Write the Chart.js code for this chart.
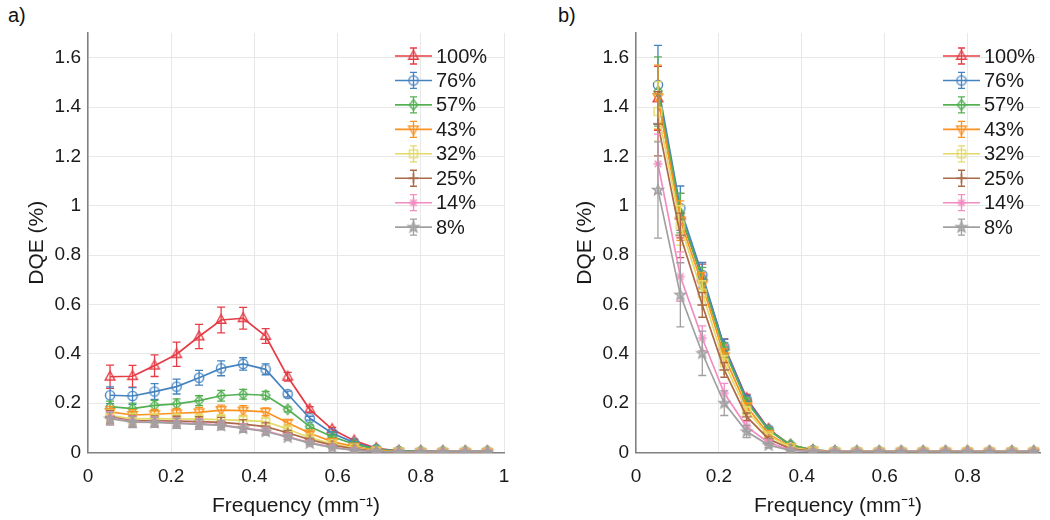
<!DOCTYPE html>
<html><head><meta charset="utf-8">
<script src="https://cdn.jsdelivr.net/npm/chart.js@4/dist/chart.umd.min.js"></script>
<style>
html,body{margin:0;padding:0;background:#fff;}
#wrap{position:relative;width:1050px;height:520px;font-family:"Liberation Sans",Arial,sans-serif;overflow:hidden;}
.panel{position:absolute;top:0;width:525px;height:520px;}
.tag{position:absolute;top:4px;font-size:20px;color:#111;font-family:"Liberation Sans",Arial,sans-serif;}
</style></head><body>
<div id="wrap">
<div class="tag" style="left:8px">a)</div>
<div class="tag" style="left:558px">b)</div>
<div class="panel" style="left:0"><canvas id="ca" width="525" height="520"></canvas></div>
<div class="panel" style="left:525px"><canvas id="cb" width="525" height="520"></canvas></div>
</div>
<script>
// ---------- data ----------
const freq = [0.053, 0.107, 0.16, 0.213, 0.267, 0.32, 0.373, 0.427, 0.48, 0.533, 0.587, 0.64, 0.693, 0.747, 0.8, 0.853, 0.907, 0.96];
const seriesLabels = ['100%', '76%', '57%', '43%', '32%', '25%', '14%', '8%'];
const seriesColors = ['#e63c45', '#4583c0', '#55b054', '#fb9220', '#e3da68', '#ad6a48', '#f28dc3', '#a0a0a0'];
const markerKinds = ['tri', 'circle', 'diamond', 'triDown', 'square', 'plus', 'asterisk', 'pentagram'];
const xTicksA = [0, 0.2, 0.4, 0.6, 0.8, 1];
const xTicksB = [0, 0.2, 0.4, 0.6, 0.8];
const yTicks = [0, 0.2, 0.4, 0.6, 0.8, 1, 1.2, 1.4, 1.6];

// panel a) values
const a100 = [0.307, 0.309, 0.352, 0.398, 0.470, 0.537, 0.544, 0.472, 0.307, 0.175, 0.094, 0.048, 0.017, 0.007, 0.006, 0.005, 0.005, 0.005];
const a76  = [0.232, 0.229, 0.247, 0.267, 0.303, 0.341, 0.359, 0.337, 0.237, 0.139, 0.078, 0.040, 0.014, 0.006, 0.004, 0.004, 0.004, 0.004];
const a57  = [0.186, 0.178, 0.191, 0.197, 0.210, 0.230, 0.236, 0.232, 0.175, 0.105, 0.064, 0.034, 0.013, 0.006, 0.004, 0.004, 0.004, 0.004];
const a43  = [0.165, 0.152, 0.155, 0.159, 0.163, 0.172, 0.170, 0.165, 0.121, 0.078, 0.044, 0.024, 0.008, 0.004, 0.003, 0.003, 0.003, 0.003];
const a32  = [0.150, 0.136, 0.137, 0.136, 0.135, 0.133, 0.130, 0.125, 0.095, 0.060, 0.035, 0.018, 0.006, 0.003, 0.003, 0.003, 0.003, 0.003];
const a25  = [0.145, 0.128, 0.128, 0.127, 0.125, 0.122, 0.115, 0.105, 0.080, 0.052, 0.030, 0.015, 0.005, 0.003, 0.003, 0.003, 0.003, 0.003];
const a14  = [0.140, 0.125, 0.124, 0.120, 0.117, 0.112, 0.100, 0.088, 0.065, 0.040, 0.022, 0.010, 0.004, 0.003, 0.003, 0.003, 0.003, 0.003];
const a8   = [0.137, 0.123, 0.122, 0.118, 0.114, 0.110, 0.098, 0.085, 0.062, 0.038, 0.020, 0.009, 0.004, 0.003, 0.003, 0.003, 0.003, 0.003];
// panel a) error bars (half-length)
const ea100 = [0.047, 0.044, 0.044, 0.049, 0.049, 0.052, 0.044, 0.030, 0.018, 0.011, 0.008, 0.006, 0.004, 0.003, 0.002, 0.002, 0.002, 0.002];
const ea76  = [0.034, 0.034, 0.032, 0.030, 0.030, 0.030, 0.025, 0.022, 0.012, 0.008, 0.006, 0.004, 0.003, 0.002, 0.002, 0.002, 0.002, 0.002];
const ea57  = [0.022, 0.022, 0.020, 0.020, 0.020, 0.022, 0.020, 0.016, 0.010, 0.007, 0.005, 0.004, 0.003, 0.002, 0.002, 0.002, 0.002, 0.002];
const ea43  = [0.022, 0.022, 0.020, 0.020, 0.020, 0.020, 0.020, 0.016, 0.010, 0.006, 0.004, 0.003, 0.002, 0.002, 0.002, 0.002, 0.002, 0.002];
const ea32  = [0.024, 0.022, 0.020, 0.020, 0.020, 0.020, 0.018, 0.015, 0.010, 0.006, 0.004, 0.003, 0.002, 0.002, 0.002, 0.002, 0.002, 0.002];
const ea25  = [0.026, 0.022, 0.020, 0.020, 0.020, 0.020, 0.018, 0.015, 0.010, 0.006, 0.004, 0.003, 0.002, 0.002, 0.002, 0.002, 0.002, 0.002];
const ea14  = [0.026, 0.022, 0.020, 0.020, 0.020, 0.018, 0.016, 0.014, 0.010, 0.006, 0.004, 0.003, 0.002, 0.002, 0.002, 0.002, 0.002, 0.002];
const ea8   = [0.026, 0.022, 0.020, 0.020, 0.020, 0.018, 0.016, 0.014, 0.010, 0.006, 0.004, 0.003, 0.002, 0.002, 0.002, 0.002, 0.002, 0.002];

// panel b) values
const b100 = [1.435, 0.960, 0.713, 0.430, 0.220, 0.095, 0.030, 0.010, 0.005, 0.004, 0.004, 0.004, 0.004, 0.004, 0.004, 0.004, 0.004, 0.004];
const b76  = [1.490, 0.990, 0.720, 0.429, 0.215, 0.093, 0.028, 0.009, 0.005, 0.004, 0.004, 0.004, 0.004, 0.004, 0.004, 0.004, 0.004, 0.004];
const b57  = [1.463, 0.970, 0.700, 0.415, 0.205, 0.090, 0.032, 0.010, 0.005, 0.004, 0.004, 0.004, 0.004, 0.004, 0.004, 0.004, 0.004, 0.004];
const b43  = [1.440, 0.940, 0.680, 0.390, 0.186, 0.075, 0.022, 0.008, 0.004, 0.004, 0.004, 0.004, 0.004, 0.004, 0.004, 0.004, 0.004, 0.004];
const b32  = [1.382, 0.920, 0.646, 0.363, 0.170, 0.068, 0.020, 0.007, 0.004, 0.004, 0.004, 0.004, 0.004, 0.004, 0.004, 0.004, 0.004, 0.004];
const b25  = [1.332, 0.880, 0.598, 0.335, 0.145, 0.055, 0.015, 0.006, 0.004, 0.004, 0.004, 0.004, 0.004, 0.004, 0.004, 0.004, 0.004, 0.004];
const b14  = [1.170, 0.713, 0.463, 0.240, 0.105, 0.040, 0.010, 0.005, 0.004, 0.004, 0.004, 0.004, 0.004, 0.004, 0.004, 0.004, 0.004, 0.004];
const b8   = [1.064, 0.639, 0.402, 0.200, 0.085, 0.030, 0.008, 0.004, 0.004, 0.004, 0.004, 0.004, 0.004, 0.004, 0.004, 0.004, 0.004, 0.004];
// panel b) error bars (half-length)
const eb100 = [0.130, 0.090, 0.050, 0.030, 0.015, 0.008, 0.004, 0.002, 0.002, 0.002, 0.002, 0.002, 0.002, 0.002, 0.002, 0.002, 0.002, 0.002];
const eb76  = [0.160, 0.090, 0.050, 0.030, 0.015, 0.008, 0.004, 0.002, 0.002, 0.002, 0.002, 0.002, 0.002, 0.002, 0.002, 0.002, 0.002, 0.002];
const eb57  = [0.140, 0.080, 0.050, 0.030, 0.015, 0.008, 0.004, 0.002, 0.002, 0.002, 0.002, 0.002, 0.002, 0.002, 0.002, 0.002, 0.002, 0.002];
const eb43  = [0.130, 0.080, 0.050, 0.030, 0.015, 0.008, 0.004, 0.002, 0.002, 0.002, 0.002, 0.002, 0.002, 0.002, 0.002, 0.002, 0.002, 0.002];
const eb32  = [0.120, 0.080, 0.050, 0.030, 0.015, 0.008, 0.004, 0.002, 0.002, 0.002, 0.002, 0.002, 0.002, 0.002, 0.002, 0.002, 0.002, 0.002];
const eb25  = [0.130, 0.090, 0.050, 0.030, 0.015, 0.008, 0.004, 0.002, 0.002, 0.002, 0.002, 0.002, 0.002, 0.002, 0.002, 0.002, 0.002, 0.002];
const eb14  = [0.120, 0.100, 0.050, 0.040, 0.020, 0.010, 0.004, 0.002, 0.002, 0.002, 0.002, 0.002, 0.002, 0.002, 0.002, 0.002, 0.002, 0.002];
const eb8   = [0.195, 0.130, 0.090, 0.050, 0.025, 0.010, 0.004, 0.002, 0.002, 0.002, 0.002, 0.002, 0.002, 0.002, 0.002, 0.002, 0.002, 0.002];

const valuesA = [a100, a76, a57, a43, a32, a25, a14, a8];
const errorsA = [ea100, ea76, ea57, ea43, ea32, ea25, ea14, ea8];
const valuesB = [b100, b76, b57, b43, b32, b25, b14, b8];
const errorsB = [eb100, eb76, eb57, eb43, eb32, eb25, eb14, eb8];

// ---------- drawing helpers ----------
const FONT = '"Liberation Sans", Arial, sans-serif';
function makeMarker(kind, color) {
  const c = document.createElement('canvas');
  c.width = 16; c.height = 16;
  const g = c.getContext('2d');
  g.strokeStyle = color; g.fillStyle = color; g.lineWidth = 1.4;
  g.translate(8, 8);
  g.beginPath();
  switch (kind) {
    case 'tri': g.moveTo(0, -5.5); g.lineTo(4.8, 3.2); g.lineTo(-4.8, 3.2); g.closePath(); break;
    case 'triDown': g.moveTo(0, 5.5); g.lineTo(4.8, -3.2); g.lineTo(-4.8, -3.2); g.closePath(); break;
    case 'circle': g.arc(0, 0, 4.6, 0, Math.PI * 2); break;
    case 'diamond': g.moveTo(0, -5.2); g.lineTo(4.2, 0); g.lineTo(0, 5.2); g.lineTo(-4.2, 0); g.closePath(); break;
    case 'square': g.rect(-3.9, -3.9, 7.8, 7.8); break;
    case 'plus': g.moveTo(-5, 0); g.lineTo(5, 0); g.moveTo(0, -5); g.lineTo(0, 5); break;
    case 'asterisk':
      g.moveTo(-4.5, 0); g.lineTo(4.5, 0); g.moveTo(0, -4.5); g.lineTo(0, 4.5);
      g.moveTo(-3.3, -3.3); g.lineTo(3.3, 3.3); g.moveTo(-3.3, 3.3); g.lineTo(3.3, -3.3); break;
    case 'pentagram':
      for (let k = 0; k < 10; k++) {
        const r = k % 2 === 0 ? 5.6 : 2.3;
        const a = -Math.PI / 2 + k * Math.PI / 5;
        const px = r * Math.cos(a), py = r * Math.sin(a);
        if (k === 0) g.moveTo(px, py); else g.lineTo(px, py);
      }
      g.closePath();
      g.globalAlpha = 0.55; g.fill(); g.globalAlpha = 1; break;
  }
  g.stroke();
  return c;
}
const markerImgs = markerKinds.map((k, i) => makeMarker(k, seriesColors[i]));

const errPlugin = {
  id: 'errbars',
  afterDatasetDraw(chart, args) {
    const ds = chart.data.datasets[args.index];
    if (!ds.errors) return;
    const ys = chart.scales.y, ctx = chart.ctx, ca = chart.chartArea;
    ctx.save();
    ctx.beginPath(); ctx.rect(ca.left - 10, ca.top, ca.right - ca.left + 20, ca.bottom - ca.top + 2); ctx.clip();
    ctx.strokeStyle = ds.borderColor; ctx.lineWidth = 1.3;
    args.meta.data.forEach((pt, i) => {
      const v = ds.data[i].y, e = ds.errors[i];
      const t = ys.getPixelForValue(v + e), b = ys.getPixelForValue(v - e);
      ctx.beginPath();
      ctx.moveTo(pt.x, t); ctx.lineTo(pt.x, b);
      ctx.moveTo(pt.x - 4, t); ctx.lineTo(pt.x + 4, t);
      ctx.moveTo(pt.x - 4, b); ctx.lineTo(pt.x + 4, b);
      ctx.stroke();
    });
    ctx.restore();
  }
};

const legendPlugin = {
  id: 'mlegend',
  afterDraw(chart) {
    const o = chart.options.plugins.mlegend;
    if (!o) return;
    const ctx = chart.ctx;
    ctx.save();
    chart.data.datasets.forEach((ds, i) => {
      const y = o.y0 + i * o.dy;
      const x0 = o.x, x1 = o.x + 37, xm = (x0 + x1) / 2;
      ctx.strokeStyle = ds.borderColor; ctx.lineWidth = 1.6;
      ctx.beginPath(); ctx.moveTo(x0, y); ctx.lineTo(x1, y); ctx.stroke();
      ctx.lineWidth = 1.3;
      ctx.beginPath();
      ctx.moveTo(xm, y - 8); ctx.lineTo(xm, y + 8);
      ctx.moveTo(xm - 3.5, y - 8); ctx.lineTo(xm + 3.5, y - 8);
      ctx.moveTo(xm - 3.5, y + 8); ctx.lineTo(xm + 3.5, y + 8);
      ctx.stroke();
      const img = ds.pointStyle;
      ctx.drawImage(img, xm - img.width / 2, y - img.height / 2);
      ctx.fillStyle = '#1a1a1a';
      ctx.font = '20px ' + FONT;
      ctx.textBaseline = 'middle'; ctx.textAlign = 'left';
      ctx.fillText(ds.label, x1 + 4, y + 1);
    });
    ctx.restore();
  }
};

const fmt = v => String(Math.round(v * 10) / 10);

function makeChart(id, values, errors, xTicks, xMax, yWidth, yTitlePad, legendX) {
  const datasets = values.map((vals, i) => ({
    label: seriesLabels[i],
    data: freq.map((f, k) => ({ x: f, y: vals[k] })),
    errors: errors[i],
    borderColor: seriesColors[i],
    backgroundColor: seriesColors[i],
    borderWidth: 1.7,
    pointStyle: markerImgs[i],
    pointRadius: 5,
    pointHoverRadius: 5,
    tension: 0,
    fill: false,
    order: 7 - i
  }));
  return new Chart(document.getElementById(id), {
    type: 'line',
    data: { datasets },
    plugins: [errPlugin, legendPlugin],
    options: {
      responsive: false,
      animation: false,
      layout: { padding: { top: 33, right: 525 - (id === 'ca' ? 504 : 515), left: 0, bottom: 0 } },
      plugins: {
        legend: { display: false },
        tooltip: { enabled: false },
        mlegend: { x: legendX, y0: 56, dy: 24.45 }
      },
      scales: {
        x: {
          type: 'linear', min: 0, max: xMax,
          afterBuildTicks: s => { s.ticks = xTicks.map(v => ({ value: v })); },
          afterFit: s => { s.height = 67.5; },
          grid: { color: '#e8e8e8', drawTicks: false, lineWidth: 1 },
          border: { color: '#808080', width: 1.5 },
          ticks: { font: { size: 19, family: FONT }, color: '#1a1a1a', padding: 13, maxRotation: 0, autoSkip: false, callback: v => fmt(v) },
          title: { display: true, text: 'Frequency (mm⁻¹)', font: { size: 21, family: FONT }, color: '#1a1a1a', padding: { top: 0, bottom: 1 } }
        },
        y: {
          type: 'linear', min: 0, max: 1.7,
          afterBuildTicks: s => { s.ticks = yTicks.map(v => ({ value: v })); },
          afterFit: s => { s.width = yWidth; },
          grid: { color: '#e8e8e8', drawTicks: false, lineWidth: 1 },
          border: { color: '#808080', width: 1.5 },
          ticks: { font: { size: 19, family: FONT }, color: '#1a1a1a', padding: 7, callback: v => fmt(v) },
          title: { display: true, text: 'DQE (%)', font: { size: 21, family: FONT }, color: '#1a1a1a', padding: { top: yTitlePad, bottom: 0 } }
        }
      }
    }
  });
}

makeChart('ca', valuesA, errorsA, xTicksA, 1, 88, 25, 395);
makeChart('cb', valuesB, errorsB, xTicksB, 0.975, 111, 48, 418);
</script>
</body></html>
